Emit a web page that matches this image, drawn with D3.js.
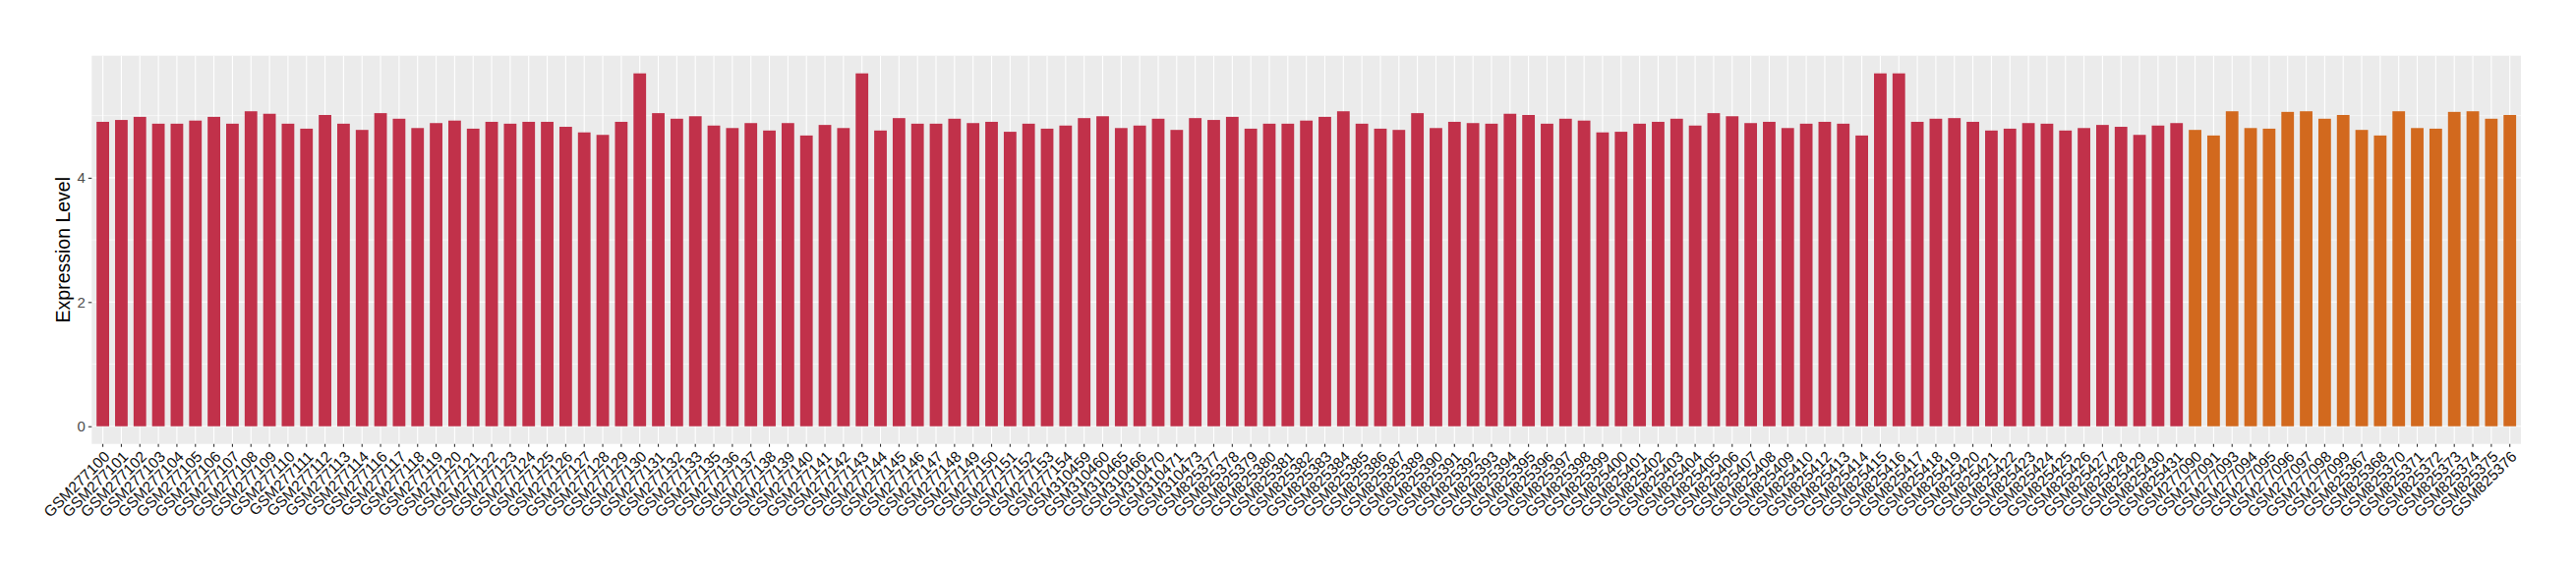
<!DOCTYPE html>
<html>
<head>
<meta charset="utf-8">
<script src="https://cdn.jsdelivr.net/npm/d3@7"></script>
<style>
  html, body { margin: 0; padding: 0; background: #ffffff; }
  svg { display: block; font-family: "Liberation Sans", Arial, Helvetica, sans-serif; }
</style>
</head>
<body>
<svg id="chart" width="2620" height="580"></svg>
<script>
// ---- DATA ----
const categoriesA = [
  "GSM277100","GSM277101","GSM277102","GSM277103","GSM277104","GSM277105","GSM277106","GSM277107","GSM277108","GSM277109",
  "GSM277110","GSM277111","GSM277112","GSM277113","GSM277114","GSM277116","GSM277117","GSM277118","GSM277119","GSM277120",
  "GSM277121","GSM277122","GSM277123","GSM277124","GSM277125","GSM277126","GSM277127","GSM277128","GSM277129","GSM277130",
  "GSM277131","GSM277132","GSM277133","GSM277135","GSM277136","GSM277137","GSM277138","GSM277139","GSM277140","GSM277141",
  "GSM277142","GSM277143","GSM277144","GSM277145","GSM277146","GSM277147","GSM277148","GSM277149","GSM277150","GSM277151",
  "GSM277152","GSM277153","GSM277154","GSM310459","GSM310460","GSM310465","GSM310466","GSM310470","GSM310471","GSM310473",
  "GSM825377","GSM825378","GSM825379","GSM825380","GSM825381","GSM825382","GSM825383","GSM825384","GSM825385","GSM825386",
  "GSM825387","GSM825389","GSM825390","GSM825391","GSM825392","GSM825393","GSM825394","GSM825395","GSM825396","GSM825397",
  "GSM825398","GSM825399","GSM825400","GSM825401","GSM825402","GSM825403","GSM825404","GSM825405","GSM825406","GSM825407",
  "GSM825408","GSM825409","GSM825410","GSM825412","GSM825413","GSM825414","GSM825415","GSM825416","GSM825417","GSM825418",
  "GSM825419","GSM825420","GSM825421","GSM825422","GSM825423","GSM825424","GSM825425","GSM825426","GSM825427","GSM825428",
  "GSM825429","GSM825430","GSM825431"
];
const valuesA = [
  4.90,4.93,4.98,4.87,4.87,4.92,4.98,4.87,5.07,5.03,
  4.87,4.79,5.01,4.87,4.77,5.04,4.95,4.80,4.88,4.92,
  4.79,4.90,4.87,4.90,4.90,4.82,4.73,4.69,4.90,5.68,
  5.04,4.95,4.99,4.84,4.80,4.88,4.76,4.88,4.68,4.85,
  4.80,5.68,4.76,4.96,4.87,4.87,4.95,4.88,4.90,4.74,
  4.87,4.79,4.84,4.96,4.99,4.80,4.84,4.95,4.77,4.96,
  4.93,4.98,4.79,4.87,4.87,4.92,4.98,5.07,4.87,4.79,
  4.77,5.04,4.80,4.90,4.88,4.87,5.03,5.01,4.87,4.95,
  4.92,4.73,4.74,4.87,4.90,4.95,4.84,5.04,4.99,4.88,
  4.90,4.80,4.87,4.90,4.87,4.68,5.68,5.68,4.90,4.95,
  4.96,4.90,4.76,4.79,4.88,4.87,4.76,4.80,4.85,4.82,
  4.69,4.84,4.88
];
const categoriesB = [
  "GSM277090","GSM277091","GSM277093","GSM277094","GSM277095","GSM277096","GSM277097","GSM277098","GSM277099",
  "GSM825367","GSM825368","GSM825370","GSM825371","GSM825372","GSM825373","GSM825374","GSM825375","GSM825376"
];
const valuesB = [
  4.77,4.68,5.07,4.80,4.79,5.06,5.07,4.95,5.01,
  4.77,4.68,5.07,4.80,4.79,5.06,5.07,4.95,5.01
];
const yTicks = [0, 2, 4];
const yMinorTicks = [1, 3, 5];
const yTitle = "Expression Level";
const colorA = "#C1314A";
const colorB = "#D2691E";

// ---- LAYOUT ----
const svg = d3.select("#chart");
const panel = { left: 93.3, right: 2564, top: 56.7, bottom: 451.7 };

const rows = categoriesA.map((c, i) => ({ cat: c, val: valuesA[i], color: colorA }))
  .concat(categoriesB.map((c, i) => ({ cat: c, val: valuesB[i], color: colorB })));

const x = d3.scaleBand()
  .domain(rows.map(d => d.cat))
  .range([panel.left, panel.right])
  .paddingInner(0)
  .paddingOuter(0.1);

const yMax = d3.max(rows, d => d.val);
const y = d3.scaleLinear()
  .domain([-0.05 * yMax, yMax * 1.05])
  .range([panel.bottom, panel.top]);

// panel background
svg.append("rect")
  .attr("x", panel.left).attr("y", panel.top)
  .attr("width", panel.right - panel.left)
  .attr("height", panel.bottom - panel.top)
  .attr("fill", "#EBEBEB");

// minor horizontal grid
svg.append("g").selectAll("line").data(yMinorTicks).join("line")
  .attr("x1", panel.left).attr("x2", panel.right)
  .attr("y1", d => y(d)).attr("y2", d => y(d))
  .attr("stroke", "#ffffff").attr("stroke-width", 0.6);

// major horizontal grid
svg.append("g").selectAll("line").data(yTicks).join("line")
  .attr("x1", panel.left).attr("x2", panel.right)
  .attr("y1", d => y(d)).attr("y2", d => y(d))
  .attr("stroke", "#ffffff").attr("stroke-width", 1.1);

// vertical grid
svg.append("g").selectAll("line").data(rows).join("line")
  .attr("x1", d => x(d.cat) + x.bandwidth() / 2)
  .attr("x2", d => x(d.cat) + x.bandwidth() / 2)
  .attr("y1", panel.top).attr("y2", panel.bottom)
  .attr("stroke", "#ffffff").attr("stroke-width", 1.1);

// bars
const barW = x.bandwidth() * 0.68;
svg.append("g").selectAll("rect").data(rows).join("rect")
  .attr("x", d => x(d.cat) + (x.bandwidth() - barW) / 2)
  .attr("width", barW)
  .attr("y", d => y(d.val))
  .attr("height", d => y(0) - y(d.val))
  .attr("fill", d => d.color);

// y axis
const yAxis = d3.axisLeft(y).tickValues(yTicks).tickSize(3.5).tickPadding(3).tickFormat(d3.format("d"));
const gy = svg.append("g").attr("transform", `translate(${panel.left},0)`).call(yAxis);
gy.select(".domain").remove();
gy.selectAll(".tick line").attr("stroke", "#333333").attr("stroke-width", 1.1);
gy.selectAll(".tick text").attr("fill", "#4D4D4D").attr("font-size", 15)
  .attr("font-family", "'Liberation Sans', Arial, sans-serif");

// x axis
const xAxis = d3.axisBottom(x).tickSize(3).tickPadding(0);
const gx = svg.append("g").attr("transform", `translate(0,${panel.bottom})`).call(xAxis);
gx.select(".domain").remove();
gx.selectAll(".tick line").attr("stroke", "#333333").attr("stroke-width", 1.1);
gx.selectAll(".tick text")
  .attr("fill", "#111111")
  .attr("font-size", 15.5)
  .attr("font-family", "'Liberation Sans', Arial, sans-serif")
  .attr("text-anchor", "end")
  .attr("dy", "0.72em")
  .attr("y", 0)
  .attr("transform", "translate(0,6) rotate(-45)");

// y title
svg.append("text")
  .attr("transform", `translate(71,${(panel.top + panel.bottom) / 2}) rotate(-90)`)
  .attr("text-anchor", "middle")
  .attr("font-size", 19.5)
  .attr("fill", "#000")
  .text(yTitle);
</script>
</body>
</html>
